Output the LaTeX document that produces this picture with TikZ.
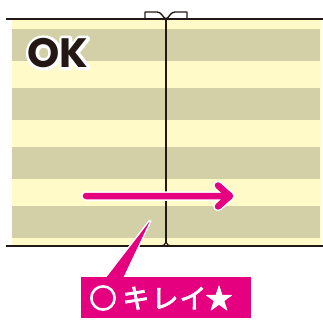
\documentclass[tikz,border=0pt]{standalone}
\usepackage{fontspec}
\newfontfamily\okfont{Poppins}
\newfontfamily\jpfont{Noto Sans CJK JP}[FakeBold=3]
\newfontfamily\ringfont{Noto Sans CJK JP}[FakeBold=6]
\definecolor{beige}{RGB}{211,207,166}
\definecolor{pale}{RGB}{255,250,200}
\definecolor{ink}{RGB}{35,24,21}
\definecolor{mag}{RGB}{228,0,127}
\newcommand{\strokedtext}[1]{\special{pdf:literal direct 1 Tr 6 w 1 j}#1\special{pdf:literal direct 0 Tr}}
\tikzset{
  stripe/.style={fill=beige, draw=none},
  edge/.style={draw=ink, line width=2pt},
  bowline/.style={draw=ink, line width=1.4pt, line join=round},
  okstyle/.style={font=\okfont\bfseries\fontsize{41}{41}\selectfont, inner sep=0pt},
}
\begin{document}
\begin{tikzpicture}[x=1pt,y=-1pt]
\useasboundingbox (0,0) rectangle (323,320);
% paper
\fill[pale] (12,19) rectangle (321,246);
\foreach \y in {29,88,147,206}{
  \fill[stripe] (12,\y) rectangle (320,\y+32);
}
% top and bottom edges
\draw[edge] (6,19) -- (323,19);
\draw[edge] (6,246) -- (323,246);
% center fold line
\coordinate (ctop) at (166,19);
\coordinate (cbot) at (166,242);
\draw[edge, line width=1.8pt] (ctop) -- (cbot);
\draw[ink, line width=1.2pt] (160,246) to[out=0,in=-90] (cbot) to[out=-90,in=180] (172,246);
% bow
\draw[bowline] (ctop) to[out=150,in=0] (157,12) -- (145,12) -- (145,19);
\draw[bowline] (ctop) to[out=30,in=180] (175,12) -- (187,12) -- (187,19);
% OK label: white outline under dark fill
\node[okstyle, text=white] (okhalo) at (58,53) {\strokedtext{OK}};
\node[okstyle, text=ink] (ok) at (58,53) {OK};
% arrow
\coordinate (as) at (86,196);
\coordinate (ae) at (230,196);
\draw[white, line width=9.5pt, line cap=round, line join=round] (as) -- (ae) (218,185.5) -- (ae) -- (218,206.5);
\draw[mag, line width=6.5pt, line cap=round, line join=round] (as) -- (ae) (218,185.5) -- (ae) -- (218,206.5);
% callout
\coordinate (tip) at (150,221);
\draw[white, line width=3pt, line join=round] (106,278) -- (tip) -- (123,278);
\fill[mag, rounded corners=1.5pt] (106,278) -- (tip) -- (123,278) -- cycle;
\fill[mag] (81,277) rectangle (251,318);
\node[text=white, font=\jpfont\fontsize{27}{27}\selectfont, inner sep=0pt] (lbl) at (161,298) {{\ringfont ○}\hspace{6pt}キ\hspace{2pt}レ\hspace{1pt}イ\hspace{-1pt}★};
\end{tikzpicture}
\end{document}
